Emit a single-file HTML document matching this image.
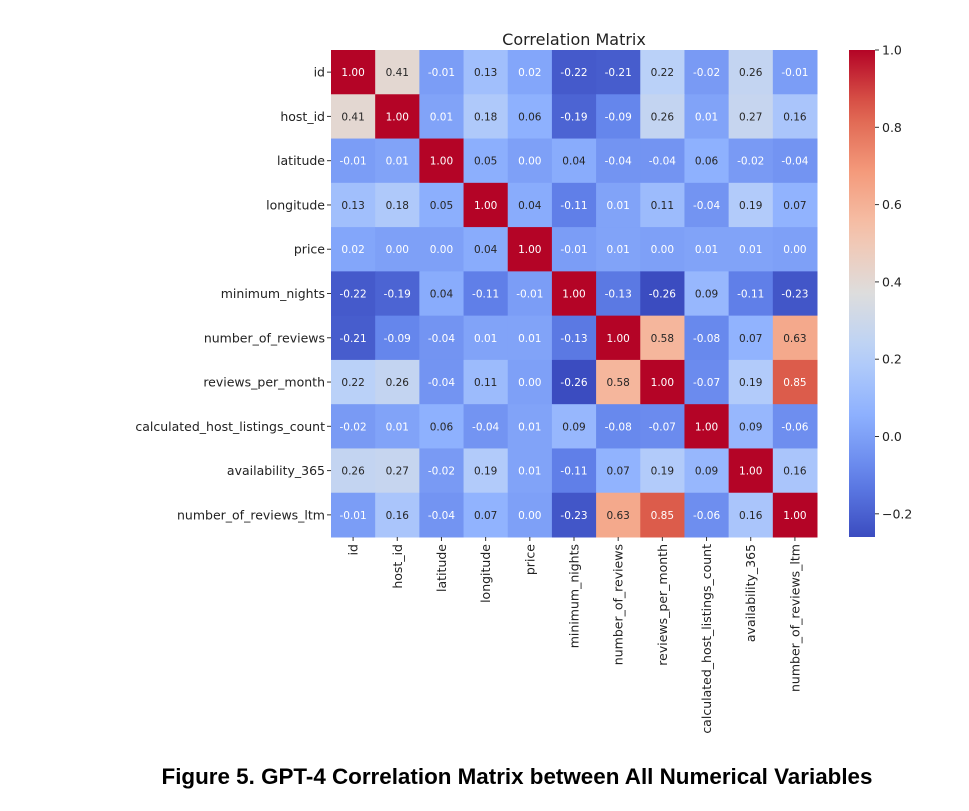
<!DOCTYPE html>
<html><head><meta charset="utf-8"><style>
body{margin:0;background:#fff;width:969px;height:811px;overflow:hidden;font-family:"DejaVu Sans","Liberation Sans",sans-serif}
#cap{position:absolute;left:0;width:1034px;top:764px;text-align:center;font:bold 22.4px "Liberation Sans",Arial,sans-serif;color:#000}
</style></head><body>
<svg id="chart" width="969" height="811" style="position:absolute;left:0;top:0"></svg>
<div id="cap">Figure 5. GPT-4 Correlation Matrix between All Numerical Variables</div>
<script>
const labels=["id","host_id","latitude","longitude","price","minimum_nights","number_of_reviews","reviews_per_month","calculated_host_listings_count","availability_365","number_of_reviews_ltm"];
const rowId=[1,.41,-.01,.13,.02,-.22,-.21,.22,-.02,.26,-.01];
const rowHost=[.41,1,.01,.18,.06,-.19,-.09,.26,.01,.27,.16];
const rowLat=[-.01,.01,1,.05,.00,.04,-.04,-.04,.06,-.02,-.04];
const rowLon=[.13,.18,.05,1,.04,-.11,.01,.11,-.04,.19,.07];
const rowPrice=[.02,.00,.00,.04,1,-.01,.01,.00,.01,.01,.00];
const rowMin=[-.22,-.19,.04,-.11,-.01,1,-.13,-.26,.09,-.11,-.23];
const rowNum=[-.21,-.09,-.04,.01,.01,-.13,1,.58,-.08,.07,.63];
const rowRpm=[.22,.26,-.04,.11,.00,-.26,.58,1,-.07,.19,.85];
const rowCalc=[-.02,.01,.06,-.04,.01,.09,-.08,-.07,1,.09,-.06];
const rowAvail=[.26,.27,-.02,.19,.01,-.11,.07,.19,.09,1,.16];
const rowLtm=[-.01,.16,-.04,.07,.00,-.23,.63,.85,-.06,.16,1];
const matrix=[rowId,rowHost,rowLat,rowLon,rowPrice,rowMin,rowNum,rowRpm,rowCalc,rowAvail,rowLtm];
const cbTicks=[1.0,0.8,0.6,0.4,0.2,0.0,-0.2];
const vmin=-0.26,vmax=1.0;
const X0=331,Y0=50,W=486,H=487,n=labels.length,cw=W/n,ch=H/n;
const CBX=849,CBW=26;
const stops=[[59,76,192],[98,130,234],[141,176,254],[184,208,249],[221,221,221],[245,196,173],[244,154,123],[222,96,77],[180,4,38]];
function cmap(v){let t=Math.max(0,Math.min(1,(v-vmin)/(vmax-vmin)))*(stops.length-1);let i=Math.min(stops.length-2,Math.floor(t)),f=t-i;return stops[i].map((c,k)=>Math.round(c+(stops[i+1][k]-c)*f));}
function lum(c){const l=c.map(x=>{x/=255;return x<=0.03928?x/12.92:Math.pow((x+0.055)/1.055,2.4)});return .2126*l[0]+.7152*l[1]+.0722*l[2];}
const cbY=v=>Y0+(vmax-v)/(vmax-vmin)*H;
const svg=document.getElementById('chart');const NS="http://www.w3.org/2000/svg";
function el(t,a,p){const e=document.createElementNS(NS,t);for(const k in a)e.setAttribute(k,a[k]);(p||svg).appendChild(e);return e;}
const title=el('text',{x:X0+W/2,y:45,'text-anchor':'middle','font-size':16,fill:'#222'});title.textContent='Correlation Matrix';


matrix.forEach((row,i)=>row.forEach((v,j)=>{
 const c=cmap(v);
 const r=el('rect',{x:X0+j*cw,y:Y0+i*ch,width:cw+0.5,height:ch+0.5,fill:`rgb(${c})`});
 
 
 const t=el('text',{x:X0+(j+.5)*cw,y:Y0+(i+.5)*ch+4,'text-anchor':'middle','font-size':10.5,fill:lum(c)>0.408?'#262626':'#fff'});
 t.textContent=v.toFixed(2);
 
 
}));
labels.forEach((l,i)=>{
 const y=Y0+(i+.5)*ch;
 el('line',{x1:X0-4,x2:X0,y1:y,y2:y,stroke:'#333'});
 const t=el('text',{x:X0-6,y:y+4.5,'text-anchor':'end','font-size':12.5,fill:'#222'});t.textContent=l;
 
 
 const x=X0+(i+.5)*cw;
 el('line',{x1:x,x2:x,y1:Y0+H,y2:Y0+H+4,stroke:'#333'});
 const u=el('text',{x:x+4.5,y:Y0+H+7,'text-anchor':'end','font-size':12.5,fill:'#222',transform:`rotate(-90 ${x+4.5} ${Y0+H+7})`});u.textContent=l;
 
 
});
const defs=el('defs',{});const g=el('linearGradient',{id:'cb',x1:0,y1:1,x2:0,y2:0},defs);
for(let k=0;k<=20;k++){const v=vmin+(vmax-vmin)*k/20;el('stop',{offset:k/20,'stop-color':`rgb(${cmap(v)})`},g);}
const cb=el('rect',{x:CBX,y:Y0,width:CBW,height:H,fill:'url(#cb)'});


cbTicks.forEach(v=>{const y=cbY(v);el('line',{x1:CBX+CBW,x2:CBX+CBW+4,y1:y,y2:y,stroke:'#333'});
 const t=el('text',{x:CBX+CBW+7,y:y+4.5,'font-size':12.5,fill:'#222'});t.textContent=(v<0?'\u2212':'')+Math.abs(v).toFixed(1);
 
 });
</script>
</body></html>
